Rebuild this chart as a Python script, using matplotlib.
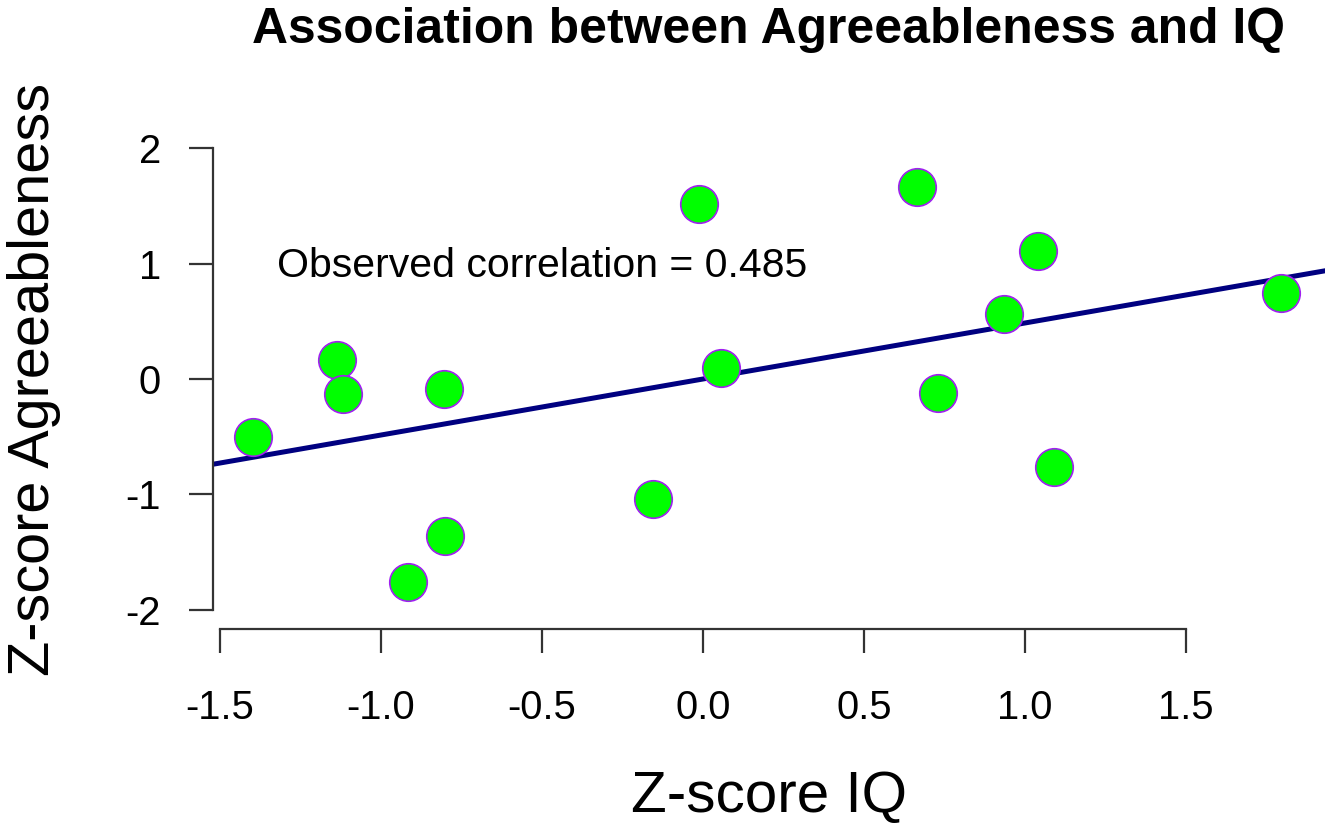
import matplotlib
matplotlib.use("Agg")
import matplotlib.pyplot as plt

# ---- data ----
iq_z = [-1.398, -1.138, -1.119, -0.803, -0.915, -0.801, -0.154, -0.012,
        0.056, 0.664, 0.730, 0.935, 1.040, 1.090, 1.795]
agree_z = [-0.502, 0.165, -0.130, -0.089, -1.760, -1.357, -1.039, 1.515,
           0.095, 1.660, -0.121, 0.563, 1.108, -0.759, 0.747]
r_obs = 0.485
intercept = 0.0
x_ticks = [-1.5, -1.0, -0.5, 0.0, 0.5, 1.0, 1.5]
x_tick_labels = ["-1.5", "-1.0", "-0.5", "0.0", "0.5", "1.0", "1.5"]
y_ticks = [-2, -1, 0, 1, 2]
y_tick_labels = ["-2", "-1", "0", "1", "2"]
title = "Association between Agreeableness and IQ"
xlabel = "Z-score IQ"
ylabel = "Z-score Agreeableness"
annot = f"Observed correlation = {r_obs:.3f}"

plt.rcParams['font.family'] = ['Liberation Sans', 'DejaVu Sans']

W, H = 1325, 824
fig = plt.figure(figsize=(W / 100, H / 100), dpi=100)
L, R, T, B = 213, 1325, 129, 629
ax = fig.add_axes([L / W, 1 - B / H, (R - L) / W, (B - T) / H])

ax.set_xlim(-1.522, 1.932)
ax.set_ylim(-2.165, 2.165)

ax.axline((0, intercept), slope=r_obs, color='#000080', lw=3.6, zorder=2)
ax.plot(iq_z, agree_z, linestyle='none', marker='o', markersize=27,
        markerfacecolor='#00FF00', markeredgecolor='#A020F0',
        markeredgewidth=1.2, zorder=3, clip_on=False)

ax.text(-0.5, 0.98, annot, ha='center', va='center', fontsize=29.5)

for s in ['top', 'right']:
    ax.spines[s].set_visible(False)
ax.spines['left'].set_bounds(-2, 2)
ax.spines['bottom'].set_bounds(-1.5, 1.5)
for s in ['left', 'bottom']:
    ax.spines[s].set_linewidth(1.6)
    ax.spines[s].set_color('#333333')

ax.set_xticks(x_ticks)
ax.set_xticklabels(x_tick_labels)
ax.set_yticks(y_ticks)
ax.set_yticklabels(y_tick_labels)
ax.tick_params(axis='both', direction='out', length=17.3, width=1.6,
               color='#333333', labelsize=28.8)
ax.tick_params(axis='x', pad=26)
ax.tick_params(axis='y', pad=20)

cx = (L + R) / 2 / W
fig.text(cx, 1 - 43 / H, title, ha='center', va='baseline',
         fontsize=35.9, fontweight='bold')
fig.text(cx, 1 - 812 / H, xlabel, ha='center', va='baseline', fontsize=42)
fig.text(34 / W, 1 - (T + B) / 2 / H, ylabel, ha='center', va='center',
         rotation=90, fontsize=41.5)

fig.savefig("out.png", dpi=100)
